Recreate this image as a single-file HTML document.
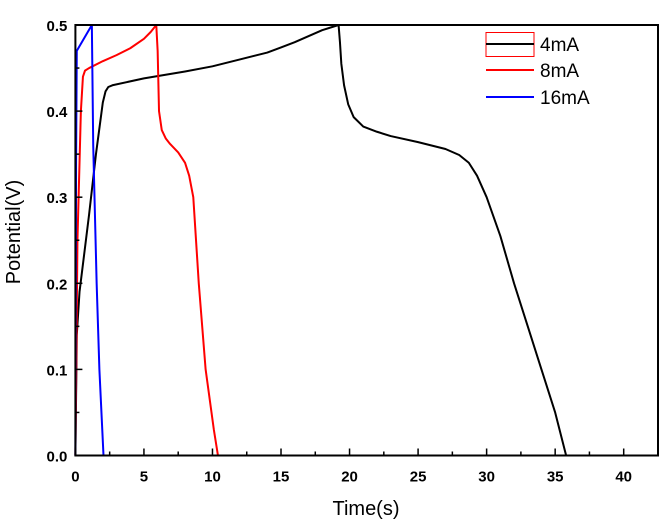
<!DOCTYPE html>
<html><head><meta charset="utf-8"><style>body{margin:0;background:#fff}svg{display:block;font-family:"Liberation Sans",Arial,sans-serif}</style></head>
<body>
<svg id="c" width="661" height="519"></svg>
<script>
const xTicks=[0,5,10,15,20,25,30,35,40];
const yTicks=[0.0,0.1,0.2,0.3,0.4,0.5];
const t16=[0,0.05,0.1,1.2,1.3,1.55,1.75,2.05];
const v16=[0,0.34,0.47,0.5,0.36,0.2,0.1,0];
const t8=[0,0.15,0.4,0.55,0.7,1,2,3,4,5,5.5,5.9,6,6.1,6.3,6.6,6.9,7.5,8,8.3,8.6,9,9.5,10.1,10.4];
const v8=[0,0.25,0.4,0.44,0.447,0.45,0.458,0.465,0.473,0.484,0.492,0.5,0.47,0.4,0.378,0.368,0.362,0.352,0.34,0.325,0.3,0.2,0.1,0.03,0];
const t4=[0,0.1,0.3,1,1.5,2,2.2,2.4,2.7,5,8,10,12,14,15,16,17,18,19.2,19.3,19.4,19.6,19.9,20.3,21,22,23,25,27,28,28.7,29.3,30,31,32,33,34,35,35.8];
const v4=[0,0.14,0.19,0.28,0.35,0.41,0.423,0.428,0.43,0.438,0.446,0.452,0.46,0.468,0.474,0.48,0.487,0.494,0.5,0.48,0.455,0.43,0.408,0.393,0.382,0.376,0.371,0.364,0.356,0.349,0.34,0.325,0.3,0.255,0.2,0.15,0.1,0.05,0];
const L=75.4,R=658,T=25,B=455.5;
const X=t=>L+t*(623.7-L)/40, Y=v=>B-v*(B-T)/0.5;
const s=document.getElementById('c'),NS='http://www.w3.org/2000/svg';
function mk(tag,a,p){const e=document.createElementNS(NS,tag);for(const k in a)e.setAttribute(k,a[k]);(p||s).appendChild(e);return e;}
function line(t,v,col,name){const e=mk('polyline',{points:t.map((x,i)=>X(x)+','+Y(v[i])).join(' '),fill:'none',stroke:col,'stroke-width':2,'stroke-linejoin':'round'});

}
line(t4,v4,'#000','series-4ma');line(t8,v8,'#f00','series-8ma');line(t16,v16,'#00f','series-16ma');
const fr=mk('rect',{x:L,y:T,width:R-L,height:B-T,fill:'none',stroke:'#000','stroke-width':2});


for(let i=0;i<=17;i++){const x=X(i*2.5);if(x>R-2)break;mk('line',{x1:x,x2:x,y1:B,y2:B-(i%2?4:7),stroke:'#000','stroke-width':1.5});}
for(let i=0;i<=10;i++){const y=Y(i*0.05);mk('line',{x1:L,x2:L+(i%2?4:7),y1:y,y2:y,stroke:'#000','stroke-width':1.5});}
xTicks.forEach(v=>{const e=mk('text',{x:X(v),y:B+26,'text-anchor':'middle','font-size':15,'font-weight':'bold'});e.textContent=v;

});
yTicks.forEach(v=>{const e=mk('text',{x:L-8,y:Y(v)+6,'text-anchor':'end','font-size':15,'font-weight':'bold'});e.textContent=v.toFixed(1);

});
const xt=mk('text',{x:366,y:515,'text-anchor':'middle','font-size':20});xt.textContent='Time(s)';


const yt=mk('text',{x:0,y:0,'text-anchor':'middle','font-size':20,transform:'translate(20,232) rotate(-90)'});yt.textContent='Potential(V)';


const g=mk('g',{});


mk('rect',{x:486,y:32.5,width:48,height:24,fill:'none',stroke:'#f00','stroke-width':1},g);
[['4mA','#000',44],['8mA','#f00',70],['16mA','#00f',97]].forEach(([n,c,y])=>{mk('line',{x1:486,x2:534,y1:y,y2:y,stroke:c,'stroke-width':2},g);const e=mk('text',{x:540,y:y+7,'font-size':19},g);e.textContent=n;

});
</script>
</body></html>
